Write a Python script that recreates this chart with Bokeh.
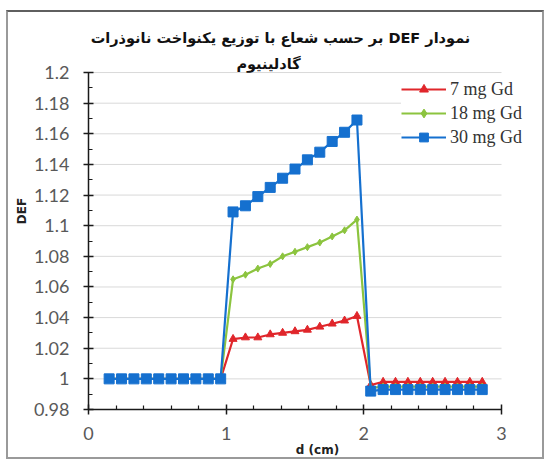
from bokeh.plotting import figure
from bokeh.models import FixedTicker, Legend, LegendItem, Label, Range1d
from bokeh.embed import file_html
from bokeh.resources import INLINE

# ---- data ----
d_cm = [0.15, 0.24, 0.33, 0.42, 0.51, 0.60, 0.69, 0.78, 0.87, 0.96,
        1.05, 1.14, 1.23, 1.32, 1.41, 1.50, 1.59, 1.68, 1.77, 1.86, 1.95,
        2.05, 2.14, 2.23, 2.32, 2.41, 2.50, 2.59, 2.68, 2.77, 2.86]

def_7mg = [1.000, 1.000, 1.000, 1.000, 1.000, 1.000, 1.000, 1.000, 1.000, 1.000,
           1.026, 1.027, 1.027, 1.029, 1.030, 1.031, 1.032, 1.034, 1.036, 1.038, 1.041,
           0.996, 0.998, 0.998, 0.998, 0.998, 0.998, 0.998, 0.998, 0.998, 0.998]

def_18mg = [1.000, 1.000, 1.000, 1.000, 1.000, 1.000, 1.000, 1.000, 1.000, 1.000,
            1.065, 1.068, 1.072, 1.075, 1.080, 1.083, 1.086, 1.089, 1.093, 1.097, 1.104,
            0.994, 0.995, 0.995, 0.995, 0.995, 0.995, 0.995, 0.995, 0.995, 0.995]

def_30mg = [1.000, 1.000, 1.000, 1.000, 1.000, 1.000, 1.000, 1.000, 1.000, 1.000,
            1.109, 1.113, 1.119, 1.125, 1.131, 1.137, 1.143, 1.148, 1.155, 1.161, 1.169,
            0.992, 0.993, 0.993, 0.993, 0.993, 0.993, 0.993, 0.993, 0.993, 0.993]

series_names = ["7 mg Gd", "18 mg Gd", "30 mg Gd"]

y_ticks = [0.98, 1.0, 1.02, 1.04, 1.06, 1.08, 1.1, 1.12, 1.14, 1.16, 1.18, 1.2]
y_tick_labels = ["0.98", "1", "1.02", "1.04", "1.06", "1.08", "1.1", "1.12",
                 "1.14", "1.16", "1.18", "1.2"]
y_minor = [0.99, 1.01, 1.03, 1.05, 1.07, 1.09, 1.11, 1.13, 1.15, 1.17, 1.19]
x_ticks = [0, 1, 2, 3]
x_tick_labels = ["0", "1", "2", "3"]
x_minor = [0.2, 0.4, 0.6, 0.8, 1.2, 1.4, 1.6, 1.8, 2.2, 2.4, 2.6, 2.8]

title_line1 = "نمودار DEF بر حسب شعاع با توزیع یکنواخت نانوذرات"
title_line2 = "گادلینیوم"
x_title = "d (cm)"
y_title = "DEF"

RED = "#e0262b"
GREEN = "#8cc43f"
BLUE = "#1570cf"
TICK_GRAY = "#595959"

# frame: left edge at x=0, bottom at y=0.98; extended to top/right so that
# the title and the legend (which overlap the chart area) are not clipped
p = figure(width=538, height=449, output_backend="svg", toolbar_location=None,
           title=None, x_range=Range1d(0, 3.3268), y_range=Range1d(0.98, 1.2392),
           min_border_left=80, min_border_right=0, min_border_top=0,
           min_border_bottom=52)
p.outline_line_color = None
p.background_fill_color = "white"
p.border_fill_color = "white"
p.styles = {"border": "2px solid #9a9a9a", "border-top": "2px solid #5f5f5f",
            "margin-left": "6px", "margin-top": "10px"}

# axes
p.yaxis.ticker = FixedTicker(ticks=y_ticks, minor_ticks=y_minor)
p.xaxis.ticker = FixedTicker(ticks=x_ticks, minor_ticks=x_minor)
p.yaxis.major_label_overrides = dict(zip(y_ticks, y_tick_labels))
p.xaxis.major_label_overrides = dict(zip(x_ticks, x_tick_labels))
p.xaxis.bounds = (x_ticks[0], x_ticks[-1])
p.yaxis.bounds = (y_ticks[0], y_ticks[-1])
for ax in (p.xaxis, p.yaxis):
    ax.axis_line_color = "#1a1a1a"
    ax.axis_line_width = 1.5
    ax.major_tick_line_color = "#1a1a1a"
    ax.major_tick_line_width = 1.5
    ax.minor_tick_line_color = "#1a1a1a"
    ax.minor_tick_line_width = 1.2
    ax.major_tick_in = 5
    ax.major_tick_out = 5
    ax.minor_tick_in = 4
    ax.minor_tick_out = 0
    ax.major_label_text_font = "Lato"
    ax.major_label_text_font_size = "18px"
    ax.major_label_text_color = TICK_GRAY
    ax.axis_label_text_font = "DejaVu Sans"
    ax.axis_label_text_font_style = "bold"
    ax.axis_label_text_font_size = "12px"
    ax.axis_label_text_color = "#222222"
p.yaxis.major_label_standoff = 14
p.xaxis.major_label_standoff = 12
p.xaxis.axis_label = x_title
p.yaxis.axis_label = y_title
p.xaxis.axis_label_standoff = 0
p.yaxis.axis_label_standoff = 2

p.xgrid.grid_line_color = None
p.ygrid.grid_line_color = None
# horizontal gridlines limited to the axis extent
p.segment(x0=x_ticks[0], x1=x_ticks[-1], y0=y_ticks, y1=y_ticks,
          line_color="#d9d9d9", line_width=1)

# series
renderers = []
for ys, col, mk, sz in ((def_7mg, RED, "triangle", 8),
                        (def_18mg, GREEN, "diamond", 7),
                        (def_30mg, BLUE, "square", 10)):
    ln = p.line(d_cm, ys, line_color=col, line_width=2.2)
    pt = p.scatter(d_cm, ys, marker=mk, size=sz, fill_color=col, line_color=col)
    renderers.append([ln, pt])

legend = Legend(items=[LegendItem(label=n, renderers=r) for n, r in zip(series_names, renderers)],
                location=(313, 261), orientation="vertical",
                glyph_width=45, glyph_height=22, label_height=22, spacing=2,
                padding=6, margin=0, label_standoff=4,
                label_text_font="Liberation Serif", label_text_font_size="18px",
                label_text_color="#333333",
                background_fill_color="white", background_fill_alpha=1.0,
                border_line_color=None)
p.add_layout(legend, "center")

# two-line Persian title
RLE, PDF = "\u202b", "\u202c"
p.add_layout(Label(x=192, y=372, x_units="screen", y_units="screen",
                   text=RLE + title_line1 + PDF, text_align="center", text_baseline="middle",
                   text_font="DejaVu Sans", text_font_style="bold", text_font_size="14.5px",
                   text_color="#111111"))
p.add_layout(Label(x=180, y=346, x_units="screen", y_units="screen",
                   text=RLE + title_line2 + PDF, text_align="center", text_baseline="middle",
                   text_font="DejaVu Sans", text_font_style="bold", text_font_size="14.5px",
                   text_color="#111111"))

open("out.html", "w").write(file_html(p, INLINE))
